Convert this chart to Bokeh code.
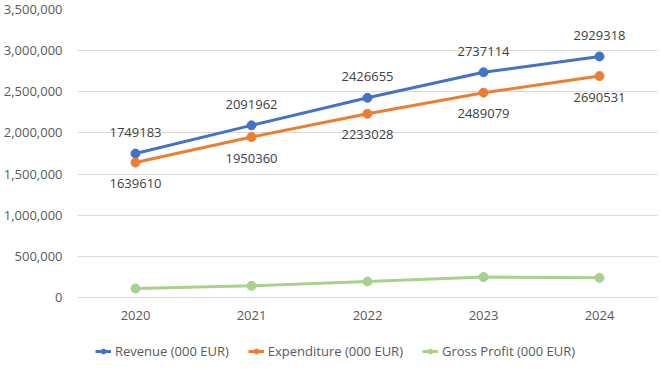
from bokeh.plotting import figure
from bokeh.layouts import column
from bokeh.models import ColumnDataSource, NumeralTickFormatter, Legend, LegendItem, FixedTicker
from bokeh.core.properties import value
from bokeh.embed import file_html
from bokeh.resources import INLINE

years = ["2020", "2021", "2022", "2023", "2024"]
revenue = [1749183, 2091962, 2426655, 2737114, 2929318]
expenditure = [1639610, 1950360, 2233028, 2489079, 2690531]
gross_profit = [109573, 141602, 193627, 248035, 238787]
y_ticks = [0, 500000, 1000000, 1500000, 2000000, 2500000, 3000000, 3500000]

FONT = "Open Sans"
TXT = "#595959"
FS = "13px"

src = ColumnDataSource(dict(
    x=years, rev=revenue, exp=expenditure, gp=gross_profit,
    rev_lbl=[str(v) for v in revenue], exp_lbl=[str(v) for v in expenditure],
))

p = figure(x_range=years, y_range=(0, 3500000), frame_width=580, frame_height=288,
           output_backend="svg", toolbar_location=None,
           min_border_left=75, min_border_right=6, min_border_top=9, min_border_bottom=31)
p.outline_line_color = None
p.background_fill_color = "white"
p.border_fill_color = "white"

p.yaxis.ticker = FixedTicker(ticks=y_ticks)
p.yaxis.formatter = NumeralTickFormatter(format="0,0")
p.yaxis.axis_line_color = None
p.yaxis.major_tick_line_color = None
p.yaxis.minor_tick_line_color = None
p.yaxis.major_label_standoff = 9
p.xaxis.axis_line_color = "#D9D9D9"
p.xaxis.major_tick_line_color = None
p.xaxis.minor_tick_line_color = None
p.xaxis.major_label_standoff = 7
for ax in (p.xaxis, p.yaxis):
    ax.major_label_text_font = FONT
    ax.major_label_text_font_size = FS
    ax.major_label_text_color = TXT

p.xgrid.grid_line_color = None
p.ygrid.grid_line_color = "#D9D9D9"
p.ygrid.grid_line_width = 1

series = [("rev", "#4472C4", "Revenue (000 EUR)"),
          ("exp", "#ED7D31", "Expenditure (000 EUR)"),
          ("gp", "#A9D18E", "Gross Profit (000 EUR)")]
for col, color, name in series:
    p.line("x", col, source=src, line_color=color, line_width=3)
    p.scatter("x", col, source=src, size=9, fill_color=color, line_color=color)

p.text("x", "rev", text="rev_lbl", source=src, y_offset=-21, text_align="center",
       text_baseline="middle", text_font=value(FONT), text_font_size=FS, text_color="#404040")
p.text("x", "exp", text="exp_lbl", source=src, y_offset=21, text_align="center",
       text_baseline="middle", text_font=value(FONT), text_font_size=FS, text_color="#404040")

# legend strip (proxy glyphs placed outside the visible range)
lg = figure(x_range=(0, 1), y_range=(0, 1), frame_width=661, frame_height=44,
            output_backend="svg", toolbar_location=None,
            min_border_left=0, min_border_right=0, min_border_top=0, min_border_bottom=0)
lg.axis.visible = False
lg.grid.visible = False
lg.outline_line_color = None
lg.border_fill_color = "white"
items = []
for col, color, name in series:
    l = lg.line(x=[-10, -9], y=[-10, -10], line_color=color, line_width=3)
    s = lg.scatter(x=[-10], y=[-10], size=9, fill_color=color, line_color=color)
    items.append(LegendItem(label=name, renderers=[l, s]))

legend = Legend(items=items, orientation="horizontal", location=(95, 12),
                label_text_font=FONT, label_text_font_size=FS, label_text_color=TXT,
                glyph_width=16, glyph_height=12, spacing=19, label_standoff=4,
                border_line_color=None, background_fill_alpha=0, margin=0, padding=2)
lg.add_layout(legend, "center")

layout = column(p, lg, spacing=0)
open("out.html", "w").write(file_html(layout, INLINE))
